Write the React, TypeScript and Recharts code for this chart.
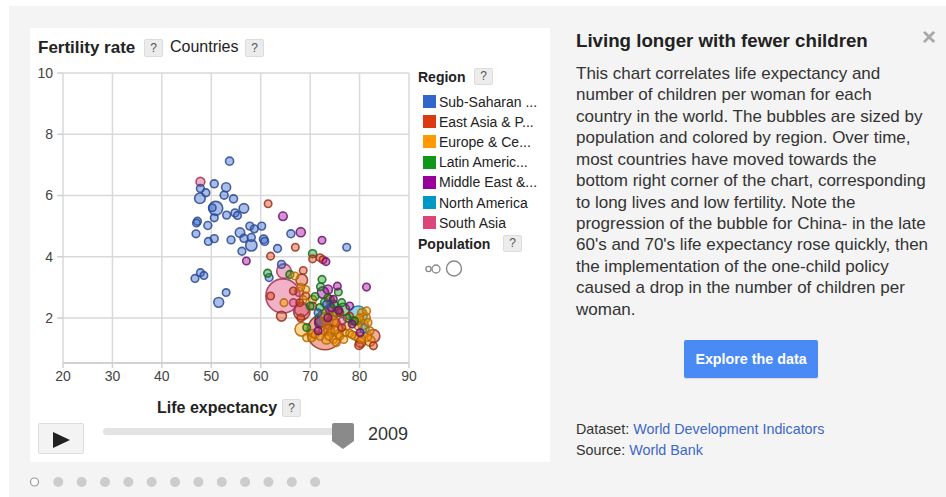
import React from "react";
import { ScatterChart, Scatter, XAxis, YAxis, ZAxis, CartesianGrid } from "recharts";

// [life expectancy, fertility rate, population (millions)]
const subSaharan: [number, number, number][] = [
  [53.7, 7.12, 15], [50.6, 6.38, 13], [53.0, 6.27, 33], [47.8, 6.23, 10], [48.9, 6.09, 10],
  [47.7, 5.91, 66], [52.6, 6.01, 12], [54.5, 5.89, 14], [50.9, 5.58, 155], [50.2, 5.6, 5],
  [56.6, 5.58, 43], [53.1, 5.36, 10], [54.8, 5.43, 12], [55.3, 5.35, 8], [50.6, 5.27, 8],
  [47.2, 5.16, 9], [47.0, 5.1, 6], [49.3, 5.02, 12], [46.9, 4.75, 8], [49.4, 4.5, 7],
  [50.6, 4.59, 10], [54.0, 4.55, 10], [55.8, 4.79, 40], [57.8, 5.0, 10], [58.7, 4.91, 8],
  [56.6, 4.6, 12], [58.1, 4.63, 10], [58.1, 4.37, 83], [56.2, 4.18, 10], [60.2, 5.0, 10],
  [60.6, 4.57, 20], [60.8, 4.5, 10], [66.1, 4.75, 12], [63.4, 4.27, 10], [47.8, 3.48, 8],
  [48.5, 3.39, 6], [46.7, 3.29, 8], [53.0, 2.83, 5], [51.5, 2.51, 49], [64.2, 3.75, 10],
  [61.7, 3.32, 10], [77.4, 4.31, 8], [71.6, 2.17, 5], [73.3, 2.45, 5],
];
const eastAsia: [number, number, number][] = [
  [61.5, 5.73, 5], [67.0, 4.31, 5], [62.0, 4.02, 6], [70.5, 3.93, 5], [72.0, 3.97, 5],
  [72.6, 3.9, 5], [68.6, 3.55, 6], [68.3, 3.24, 92], [66.6, 2.88, 5], [62.0, 2.72, 6],
  [69.1, 2.72, 8], [67.9, 2.5, 5], [68.3, 2.2, 230], [64.2, 2.06, 50], [68.1, 2.0, 7],
  [73.0, 1.55, 1331], [70.5, 2.39, 8], [78.0, 2.06, 6], [76.0, 2.17, 6], [76.4, 1.69, 6],
  [82.8, 1.41, 127], [79.9, 1.11, 23], [80.2, 1.2, 49], [82.8, 1.09, 7], [74.5, 1.9, 87],
  [73.8, 1.62, 67], [74.0, 2.6, 27],
];
const europe: [number, number, number][] = [
  [66.9, 3.37, 7], [64.7, 2.5, 6], [68.6, 2.6, 6], [69.1, 2.93, 6], [68.1, 3.0, 5],
  [68.3, 1.63, 142], [69.3, 1.36, 10], [70.3, 1.36, 10], [72.6, 1.58, 10], [73.3, 1.79, 10],
  [74.3, 1.52, 10], [74.7, 2.06, 10], [75.3, 1.85, 10], [75.7, 1.47, 10], [77.0, 1.52, 10],
  [77.4, 1.74, 10], [73.3, 1.3, 38], [74.7, 1.3, 10], [75.3, 1.2, 10], [79.0, 1.41, 10],
  [79.7, 1.74, 10], [80.4, 1.3, 10], [80.4, 2.17, 10], [81.4, 2.23, 10], [81.1, 2.01, 62],
  [80.7, 1.79, 61], [81.7, 1.85, 10], [82.1, 1.58, 10], [82.1, 1.25, 60], [80.1, 1.36, 82],
  [81.5, 1.4, 46], [73.0, 2.1, 72], [70.5, 1.5, 8], [71.0, 1.45, 8], [72.0, 1.4, 8],
  [73.8, 1.4, 8], [76.0, 1.4, 8], [78.0, 1.5, 8], [79.5, 1.9, 8], [80.0, 2.0, 8],
  [78.5, 1.45, 8], [76.8, 1.3, 8], [75.0, 1.6, 8], [70.5, 2.6, 15],
];
const latinAmerica: [number, number, number][] = [
  [61.4, 3.46, 9], [70.5, 4.1, 14], [65.9, 3.42, 10], [72.4, 3.26, 8], [72.1, 3.02, 8],
  [75.7, 2.85, 6], [73.6, 2.66, 6], [76.4, 2.5, 6], [70.0, 2.39, 6], [72.0, 2.34, 8],
  [69.3, 1.69, 6], [76.7, 2.28, 110], [72.5, 1.95, 193], [79.0, 1.9, 6], [74.0, 2.3, 45],
  [75.5, 2.2, 40], [73.0, 2.5, 29], [78.8, 1.9, 17], [74.8, 2.45, 7], [71.0, 2.7, 6],
  [77.5, 2.0, 6],
];
const middleEast: [number, number, number][] = [
  [64.5, 5.32, 23], [68.1, 4.8, 35], [72.4, 4.54, 5], [73.2, 3.84, 5], [57.1, 3.86, 5],
  [75.5, 3.04, 6], [81.4, 3.01, 7], [73.6, 2.93, 33], [72.6, 2.83, 83], [74.7, 2.61, 6],
  [74.3, 2.34, 10], [78.0, 2.39, 5], [73.6, 2.01, 10], [72.0, 1.85, 73], [71.6, 1.58, 6],
  [80.1, 1.52, 6], [78.5, 1.8, 5], [75.8, 2.25, 6],
];
const northAmerica: [number, number, number][] = [
  [79.7, 2.09, 307], [81.0, 1.66, 34],
];
const southAsia: [number, number, number][] = [
  [47.8, 6.45, 28], [64.7, 3.53, 170], [64.5, 2.72, 1200], [68.3, 2.28, 160],
  [66.6, 2.5, 7], [67.8, 2.85, 29], [74.0, 2.3, 20], [76.5, 1.9, 5],
];

const regionLabels = [
  "Sub-Saharan ...", "East Asia & P...", "Europe & Ce...", "Latin Americ...",
  "Middle East &...", "North America", "South Asia",
];
const xTicks = [20, 30, 40, 50, 60, 70, 80, 90];
const yTicks = [2, 4, 6, 8, 10];
const yearLabel = "2009";
const bodyLines = [
  "This chart correlates life expectancy and",
  "number of children per woman for each",
  "country in the world. The bubbles are sized by",
  "population and colored by region. Over time,",
  "most countries have moved towards the",
  "bottom right corner of the chart, corresponding",
  "to long lives and low fertility. Note the",
  "progression of the bubble for China- in the late",
  "60's and 70's life expectancy rose quickly, then",
  "the implementation of the one-child policy",
  "caused a drop in the number of children per",
  "woman.",
];

const regionColors = ["#3366cc", "#dc3912", "#ff9900", "#109618", "#990099", "#0099c6", "#dd4477"];
const regionStrokes = ["#2b4890", "#983018", "#b06a00", "#146a18", "#6c106c", "#0f7896", "#a0325a"];

const points = [subSaharan, eastAsia, europe, latinAmerica, middleEast, northAmerica, southAsia]
  .flatMap((arr, ri) => arr.map(([le, fert, pop]) => ({ le, fert, pop, region: ri })))
  .sort((a, b) => b.pop - a.pop);

const FONT = "'Liberation Sans', Arial, Helvetica, sans-serif";

const Bubble = (props: any) => {
  const { cx, cy, payload } = props;
  let r = 4;
  if (typeof props.size === "number") r = Math.sqrt(props.size / Math.PI);
  else if (typeof props.width === "number") r = props.width / 2;
  const ri = payload.region;
  return (
    <circle cx={cx} cy={cy} r={r} fill={regionColors[ri]} fillOpacity={0.42}
      stroke={regionStrokes[ri]} strokeOpacity={0.85} strokeWidth={1.6} />
  );
};

const QBox = ({ left, top, w = 19, h = 18 }: { left: number; top: number; w?: number; h?: number }) => (
  <div style={{
    position: "absolute", left, top, width: w, height: h, background: "#ececec",
    border: "1px solid #dcdcdc", boxSizing: "border-box", borderRadius: 2,
    fontSize: 12, color: "#555", textAlign: "center", lineHeight: `${h - 2}px`,
  }}>?</div>
);

const Txt = ({ left, cy, size, bold, color = "#222", children, lh }: any) => {
  const L = lh ?? Math.round(size * 1.25);
  return (
    <div style={{
      position: "absolute", left, top: cy - L / 2, height: L, lineHeight: `${L}px`,
      fontSize: size, fontWeight: bold ? 700 : 400, color, whiteSpace: "nowrap",
    }}>{children}</div>
  );
};

export default function App() {
  return (
    <div style={{ position: "fixed", left: 0, top: 0, width: 946, height: 497, background: "#ffffff", fontFamily: FONT, overflow: "hidden" }}>
      <div style={{ position: "absolute", left: 9, top: 6, width: 937, height: 491, background: "#f4f4f4" }} />
      <div style={{ position: "absolute", left: 30, top: 28, width: 520, height: 434, background: "#ffffff" }} />

      <div style={{ position: "absolute", left: 0, top: 0, width: 560, height: 400 }}>
        <ScatterChart width={560} height={400} margin={{ top: 73, right: 151, bottom: 7, left: 23 }} style={{ fontFamily: FONT }}>
          <CartesianGrid stroke="#d9d9d9" strokeWidth={1.5} />
          <XAxis type="number" dataKey="le" domain={[20, 90]} ticks={xTicks} allowDataOverflow
            height={30} tickSize={5} tickMargin={3} stroke="#cccccc" strokeWidth={1.5}
            tick={{ fill: "#444", fontSize: 14 }} tickLine={{ stroke: "#d0d0d0" }} />
          <YAxis type="number" dataKey="fert" domain={[0.53, 10]} ticks={yTicks} allowDataOverflow
            width={40} tickSize={6} tickMargin={4} axisLine={false}
            tick={{ fill: "#444", fontSize: 14 }} tickLine={{ stroke: "#d0d0d0", strokeWidth: 1.5 }} />
          <ZAxis type="number" dataKey="pop" domain={[0, 1340]} range={[40, 1018]} />
          <Scatter data={points} shape={Bubble} isAnimationActive={false} />
        </ScatterChart>
      </div>

      {/* axis titles */}
      <Txt left={38} cy={47} size={17} bold>Fertility rate</Txt>
      <QBox left={144} top={39} />
      <Txt left={170} cy={47} size={16}>Countries</Txt>
      <QBox left={245} top={39} />
      <Txt left={157} cy={408} size={16} bold>Life expectancy</Txt>
      <QBox left={282} top={399} />

      {/* legend */}
      <Txt left={418} cy={77} size={14} bold>Region</Txt>
      <QBox left={474} top={68} w={19} h={17} />
      {regionLabels.map((lab, i) => (
        <React.Fragment key={lab}>
          <div style={{ position: "absolute", left: 423, top: 95 + i * 20.2, width: 13, height: 13, background: regionColors[i] }} />
          <Txt left={439} cy={101.5 + i * 20.2} size={14}>{lab}</Txt>
        </React.Fragment>
      ))}
      <Txt left={418} cy={244} size={14} bold>Population</Txt>
      <QBox left={503} top={235} w={19} h={17} />
      <svg style={{ position: "absolute", left: 420, top: 256 }} width={50} height={26}>
        <circle cx={8.5} cy={13} r={2.6} fill="#fff" stroke="#888" strokeWidth={1.3} />
        <circle cx={16} cy={13} r={4} fill="#fff" stroke="#888" strokeWidth={1.3} />
        <circle cx={34} cy={12.5} r={7.5} fill="#fff" stroke="#888" strokeWidth={1.4} />
      </svg>

      {/* play controls */}
      <div style={{ position: "absolute", left: 38, top: 423, width: 46, height: 31, background: "#f3f3f3", border: "1px solid #dddddd", boxSizing: "border-box", borderRadius: 2 }} />
      <svg style={{ position: "absolute", left: 0, top: 400 }} width={420} height={60}>
        <polygon points="53,32 70,40 53,48" fill="#222" />
        <rect x={103} y={28} width={240} height={7} rx={3.5} fill="#e3e3e3" />
        <path d="M334,23 H352 Q354,23 354,25 V41 L343,49 L332,41 V25 Q332,23 334,23 Z" fill="#8a8a8a" />
      </svg>
      <Txt left={368} cy={434} size={18} color="#333">{yearLabel}</Txt>

      {/* page dots */}
      <svg style={{ position: "absolute", left: 0, top: 470 }} width={340} height={24}>
        <circle cx={34.5} cy={12} r={4} fill="#fff" stroke="#999" strokeWidth={1.2} />
        {Array.from({ length: 12 }, (_, i) => (
          <circle key={i} cx={58.3 + i * 23.35} cy={12} r={5} fill="#cccccc" />
        ))}
      </svg>

      {/* right panel */}
      <Txt left={576} cy={40} size={18.7} bold color="#222">Living longer with fewer children</Txt>
      <Txt left={922} cy={37} size={24} bold color="#a8a8a8">×</Txt>
      {bodyLines.map((ln, i) => (
        <Txt key={i} left={576} cy={73.5 + i * 21.43} size={17} color="#333" lh={21}>{ln}</Txt>
      ))}
      <div style={{
        position: "absolute", left: 684, top: 340, width: 134, height: 38, background: "#4a8af4",
        borderRadius: 2, color: "#fff", fontWeight: 700, fontSize: 14.3, textAlign: "center", lineHeight: "38px",
        boxShadow: "0 1px 1px rgba(0,0,0,0.12)",
      }}>Explore the data</div>
      <Txt left={576} cy={429} size={14.3} color="#333">Dataset: <span style={{ color: "#3d67c9" }}>World Development Indicators</span></Txt>
      <Txt left={576} cy={450} size={14.3} color="#333">Source: <span style={{ color: "#3d67c9" }}>World Bank</span></Txt>
    </div>
  );
}
